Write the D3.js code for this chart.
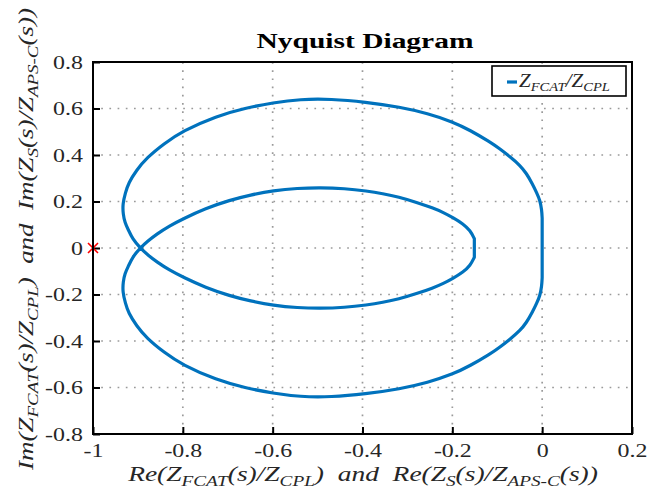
<!DOCTYPE html>
<html>
<head>
<meta charset="utf-8">
<script src="https://cdn.jsdelivr.net/npm/d3@7"></script>
<style>
  html, body { margin: 0; padding: 0; background: #fff; }
  svg { display: block; }
</style>
</head>
<body>
<svg id="chart" width="647" height="492"></svg>
<script>
// Nyquist locus of Z_FCAT/Z_CPL, as [Re, Im] pairs.
// Branch A: outer upper arc, through the real-axis crossing, into the inner lower arc.
const branchA = [
  [0.000, 0.128], [-0.001, 0.165], [-0.005, 0.206], [-0.012, 0.237], [-0.022, 0.277],
  [-0.035, 0.321], [-0.049, 0.355], [-0.072, 0.393], [-0.094, 0.426], [-0.116, 0.456],
  [-0.161, 0.507], [-0.198, 0.542], [-0.255, 0.579], [-0.316, 0.606], [-0.394, 0.628],
  [-0.470, 0.641], [-0.539, 0.640], [-0.599, 0.625], [-0.661, 0.602], [-0.725, 0.568],
  [-0.801, 0.503], [-0.842, 0.449], [-0.881, 0.387], [-0.903, 0.335], [-0.921, 0.280],
  [-0.928, 0.237], [-0.934, 0.189], [-0.933, 0.146], [-0.929, 0.109], [-0.921, 0.077],
  [-0.912, 0.039], [-0.895, 0.000],
  [-0.878, -0.030], [-0.858, -0.060], [-0.830, -0.095], [-0.799, -0.126], [-0.750, -0.170],
  [-0.695, -0.206], [-0.650, -0.228], [-0.598, -0.247], [-0.545, -0.257], [-0.494, -0.260],
  [-0.440, -0.256], [-0.390, -0.245], [-0.355, -0.234], [-0.320, -0.220], [-0.279, -0.196],
  [-0.243, -0.172], [-0.220, -0.153], [-0.198, -0.130], [-0.176, -0.104], [-0.160, -0.075],
  [-0.151, -0.040]
];
// Branch B: inner upper arc, through the crossing, into the outer lower arc.
const branchB = [
  [-0.151, 0.040], [-0.160, 0.075], [-0.176, 0.104], [-0.198, 0.130], [-0.220, 0.153],
  [-0.243, 0.172], [-0.279, 0.196], [-0.320, 0.220], [-0.355, 0.234], [-0.390, 0.245],
  [-0.440, 0.256], [-0.494, 0.260], [-0.545, 0.257], [-0.598, 0.247], [-0.650, 0.228],
  [-0.695, 0.206], [-0.750, 0.170], [-0.799, 0.126], [-0.830, 0.095], [-0.858, 0.060],
  [-0.878, 0.030], [-0.895, 0.000],
  [-0.912, -0.039], [-0.921, -0.077], [-0.929, -0.109], [-0.933, -0.146], [-0.934, -0.189],
  [-0.928, -0.237], [-0.921, -0.280], [-0.903, -0.335], [-0.881, -0.387], [-0.842, -0.449],
  [-0.801, -0.503], [-0.725, -0.568], [-0.661, -0.602], [-0.599, -0.625], [-0.539, -0.640],
  [-0.470, -0.641], [-0.394, -0.628], [-0.316, -0.606], [-0.255, -0.579], [-0.198, -0.542],
  [-0.161, -0.507], [-0.116, -0.456], [-0.094, -0.426], [-0.072, -0.393], [-0.049, -0.355],
  [-0.035, -0.321], [-0.022, -0.277], [-0.012, -0.237], [-0.005, -0.206], [-0.001, -0.165],
  [0.000, -0.128]
];
const criticalPoint = [-1, 0];

const xTicks = [-1, -0.8, -0.6, -0.4, -0.2, 0, 0.2];
const xTickLabels = ["-1", "-0.8", "-0.6", "-0.4", "-0.2", "0", "0.2"];
const yTicks = [-0.8, -0.6, -0.4, -0.2, 0, 0.2, 0.4, 0.6, 0.8];
const yTickLabels = ["-0.8", "-0.6", "-0.4", "-0.2", "0", "0.2", "0.4", "0.6", "0.8"];

const titleText = "Nyquist Diagram";
const legendLabel = [{t: "Z"}, {t: "FCAT", sub: true}, {t: "/Z"}, {t: "CPL", sub: true}];
const xLabel = [
  {t: "Re(Z"}, {t: "FCAT", sub: true}, {t: "(s)/Z"}, {t: "CPL", sub: true},
  {t: ")\u2002and\u2002Re(Z"}, {t: "S", sub: true}, {t: "(s)/Z"}, {t: "APS", sub: true},
  {t: "-", sub: true, upright: true}, {t: "C", sub: true}, {t: "(s))"}
];
const yLabel = [
  {t: "Im(Z"}, {t: "FCAT", sub: true}, {t: "(s)/Z"}, {t: "CPL", sub: true},
  {t: ")\u2002and\u2002Im(Z"}, {t: "S", sub: true}, {t: "(s)/Z"}, {t: "APS", sub: true},
  {t: "-", sub: true, upright: true}, {t: "C", sub: true}, {t: "(s))"}
];

const lineColor = "#0072BD";
const textColor = "#262626";
const serif = "'Liberation Serif', 'Times New Roman', serif";
const tickStretch = 1.26; // horizontal stretch of the tick lettering

const svg = d3.select("#chart");
const plot = {left: 93, right: 632, top: 62, bottom: 434};

const x = d3.scaleLinear().domain([-1, 0.2]).range([plot.left, plot.right]);
const y = d3.scaleLinear().domain([-0.8, 0.8]).range([plot.bottom, plot.top]);

// Dotted grid
const grid = svg.append("g").attr("stroke", "#9a9a9a").attr("stroke-width", 1.7)
  .attr("stroke-dasharray", "1.7,6.5");
grid.selectAll("line.vx").data(xTicks.filter(d => d > -1 && d < 0.2)).join("line")
  .attr("x1", d => x(d)).attr("x2", d => x(d))
  .attr("y1", plot.top).attr("y2", plot.bottom);
grid.selectAll("line.hy").data(yTicks.filter(d => d > -0.8 && d < 0.8)).join("line")
  .attr("y1", d => y(d)).attr("y2", d => y(d))
  .attr("x1", plot.left).attr("x2", plot.right);

// Axes with inward ticks
const xAxis = d3.axisBottom(x).tickValues(xTicks)
  .tickFormat((d, i) => xTickLabels[i]).tickSizeInner(-7).tickSizeOuter(0);
const yAxis = d3.axisLeft(y).tickValues(yTicks)
  .tickFormat((d, i) => yTickLabels[i]).tickSizeInner(-7).tickSizeOuter(0);

const gx = svg.append("g").attr("transform", `translate(0,${plot.bottom})`).call(xAxis);
const gy = svg.append("g").attr("transform", `translate(${plot.left},0)`).call(yAxis);
[gx, gy].forEach(g => {
  g.select(".domain").remove();
  g.selectAll(".tick line").attr("stroke", "#000").attr("stroke-width", 2);
  g.selectAll(".tick text").attr("fill", textColor)
    .style("font-family", serif).style("font-size", "19px");
});
gx.selectAll(".tick text").attr("x", null).attr("y", null).attr("dy", null)
  .attr("transform", `translate(0,23) scale(${tickStretch},1)`);
gy.selectAll(".tick text").attr("x", null).attr("dy", "0.33em")
  .attr("transform", `translate(-10,0) scale(${tickStretch},1)`);

// Nyquist curve: two smooth branches joined by the short vertical closures
const smooth = d3.line().x(d => x(d[0])).y(d => y(d[1])).curve(d3.curveBasis);
const pathD = smooth(branchA) + smooth(branchB).replace(/^M/, "L") + "Z";
svg.append("path").attr("d", pathD).attr("fill", "none")
  .attr("stroke", lineColor).attr("stroke-width", 3.2)
  .attr("stroke-linejoin", "round").attr("stroke-linecap", "round");

// Critical point marker
const cx = x(criticalPoint[0]), cy = y(criticalPoint[1]);
svg.append("path")
  .attr("d", `M${cx - 5},${cy - 5}L${cx + 5},${cy + 5}M${cx - 5},${cy + 5}L${cx + 5},${cy - 5}`)
  .attr("stroke", "#ff0000").attr("stroke-width", 1.6).attr("fill", "none");

// Frame
svg.append("rect")
  .attr("x", plot.left).attr("y", plot.top)
  .attr("width", plot.right - plot.left).attr("height", plot.bottom - plot.top)
  .attr("fill", "none").attr("stroke", "#000").attr("stroke-width", 2);

// Rich text with subscripts
function richText(sel, parts, size, subSize, shift) {
  parts.forEach((p, i) => {
    const prevSub = i > 0 && parts[i - 1].sub;
    let dy = 0;
    if (p.sub && !prevSub) dy = shift;
    if (!p.sub && prevSub) dy = -shift;
    sel.append("tspan").text(p.t)
      .attr("dy", dy)
      .style("font-size", (p.sub ? subSize : size) + "px")
      .style("font-style", p.upright ? "normal" : "italic");
  });
}
// Stretch a text along its reading direction to a given length
function fitLength(sel, length, tx, ty, rot) {
  const w = sel.node().getComputedTextLength();
  sel.attr("transform", `translate(${tx},${ty})${rot ? ` rotate(${rot})` : ""} scale(${length / w},1)`);
}

// Title
const title = svg.append("text").attr("text-anchor", "middle").attr("fill", "#000")
  .style("font-family", serif).style("font-weight", "bold")
  .style("font-size", "22px").text(titleText);
fitLength(title, 217, 365, 48);

// Axis labels
const xl = svg.append("text").attr("text-anchor", "middle").attr("fill", textColor)
  .style("font-family", serif);
richText(xl, xLabel, 20, 14, 4.5);
fitLength(xl, 470, 363, 481);

const yl = svg.append("text").attr("text-anchor", "middle").attr("fill", textColor)
  .style("font-family", serif);
richText(yl, yLabel, 20, 14, 4.5);
fitLength(yl, 462, 33, 239, -90);

// Legend
const lg = svg.append("g");
lg.append("rect").attr("x", 492).attr("y", 66).attr("width", 134).attr("height", 30)
  .attr("fill", "#fff").attr("stroke", "#000").attr("stroke-width", 1.6);
lg.append("line").attr("x1", 507).attr("x2", 517).attr("y1", 82).attr("y2", 82)
  .attr("stroke", lineColor).attr("stroke-width", 3.2);
const lt = lg.append("text").attr("fill", textColor).style("font-family", serif);
richText(lt, legendLabel, 18, 12.5, 3.5);
fitLength(lt, 91, 519, 87);
</script>
</body>
</html>
